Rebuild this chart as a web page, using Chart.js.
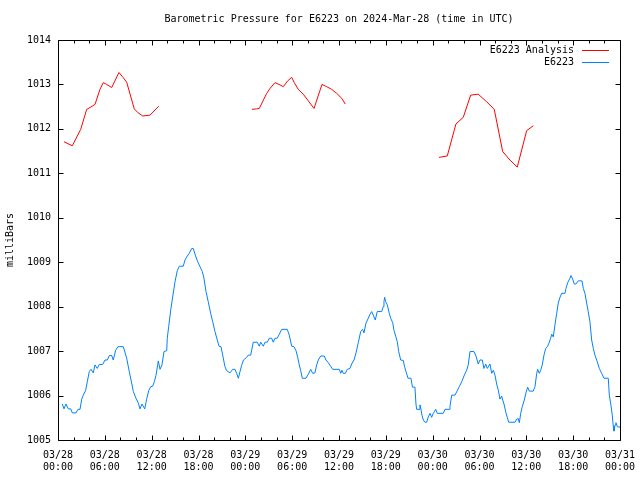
<!DOCTYPE html>
<html><head><meta charset="utf-8">
<script src="https://cdn.jsdelivr.net/npm/chart.js@4.4.1/dist/chart.umd.min.js"></script>
<style>html,body{margin:0;padding:0;background:#fff}canvas{display:block}</style>
</head><body>
<canvas id="c" width="640" height="480"></canvas>
<script>
const titleText = 'Barometric Pressure for E6223 on 2024-Mar-28 (time in UTC)';
const yAxisLabel = 'milliBars';
const seriesNames = ['E6223 Analysis', 'E6223'];
const seriesColors = ['#ff0000', '#0080ff'];

const xTickLabels = [
  ['03/28','00:00'],['03/28','06:00'],['03/28','12:00'],['03/28','18:00'],
  ['03/29','00:00'],['03/29','06:00'],['03/29','12:00'],['03/29','18:00'],
  ['03/30','00:00'],['03/30','06:00'],['03/30','12:00'],['03/30','18:00'],
  ['03/31','00:00']
];
const yTickValues = [1005,1006,1007,1008,1009,1010,1011,1012,1013,1014];

// hours since 03/28 00:00 UTC
const obsHours = [
0.55,0.77,1.02,1.32,1.63,1.83,2.31,2.56,2.82,3.04,
3.24,3.55,3.75,4.01,4.23,4.52,4.74,5.03,5.29,5.73,
6.02,6.32,6.57,6.88,7.08,7.39,7.69,8.37,8.80,9.13,
9.44,9.65,9.99,10.29,10.50,10.76,11.11,11.36,11.62,11.88,
12.13,12.34,12.55,12.77,12.85,13.07,13.32,13.58,13.93,14.00,
14.18,14.44,14.69,14.99,15.28,15.54,16.05,16.27,16.56,16.82,
17.13,17.33,17.59,17.90,18.19,18.49,18.70,18.96,19.25,19.56,
19.82,20.11,20.41,20.63,20.88,21.10,21.39,21.61,22.03,22.38,
22.67,22.89,23.10,23.32,23.53,23.76,24.17,24.38,24.69,24.81,
25.02,25.53,25.79,25.97,26.30,26.52,26.81,27.07,27.38,27.58,
27.80,28.09,28.35,28.66,29.37,29.63,29.94,30.23,30.49,30.71,
30.91,31.09,31.30,31.77,32.07,32.37,32.63,32.92,33.14,33.35,
33.65,34.11,34.33,34.63,34.93,35.19,36.04,36.22,36.38,36.55,
36.81,37.06,37.41,37.62,37.92,38.18,38.47,38.78,39.03,39.20,
39.46,39.75,39.97,40.19,40.48,40.65,40.90,41.47,41.67,41.76,
41.85,41.98,42.19,42.44,42.62,42.88,43.04,43.26,43.47,43.65,
43.90,44.24,44.40,44.58,44.84,45.22,45.41,45.73,45.86,45.95,
46.25,46.37,46.50,46.63,46.80,47.01,47.23,47.44,47.66,47.87,
48.08,48.39,48.59,49.36,49.58,50.13,50.22,50.44,50.86,51.15,
51.41,51.72,52.01,52.36,52.56,52.78,53.29,53.55,53.84,54.06,
54.36,54.57,54.79,55.00,55.34,55.56,55.77,55.98,56.20,56.41,
56.62,56.84,56.97,57.14,57.39,57.56,57.74,58.55,58.76,58.97,
59.10,59.28,59.48,59.74,59.95,60.17,60.38,60.89,61.11,61.33,
61.45,61.66,61.84,62.04,62.26,62.48,62.73,62.90,63.12,63.25,
63.45,63.67,63.89,64.09,64.31,64.53,64.95,65.08,65.30,65.59,
65.72,65.94,66.14,66.36,66.65,67.13,67.30,67.51,67.73,67.93,
68.15,68.37,68.58,68.79,69.09,69.35,69.65,69.95,70.50,70.63,
70.80,71.01,71.14,71.23,71.36,71.48,71.65,72.00
];
const obsPressure = [
1005.81,1005.70,1005.81,1005.70,1005.70,1005.61,1005.61,1005.69,1005.69,1005.92,
1006.01,1006.12,1006.31,1006.54,1006.59,1006.51,1006.69,1006.61,1006.70,1006.70,
1006.80,1006.80,1006.90,1006.90,1006.80,1007.02,1007.10,1007.10,1006.84,1006.54,
1006.28,1006.09,1005.94,1005.83,1005.70,1005.81,1005.70,1005.92,1006.11,1006.20,
1006.21,1006.31,1006.45,1006.69,1006.78,1006.59,1006.69,1006.99,1007.01,1007.29,
1007.55,1007.92,1008.22,1008.56,1008.81,1008.91,1008.91,1009.05,1009.14,1009.20,
1009.31,1009.31,1009.16,1009.01,1008.90,1008.79,1008.64,1008.34,1008.11,1007.85,
1007.66,1007.44,1007.25,1007.11,1007.10,1006.91,1006.65,1006.56,1006.51,1006.59,
1006.59,1006.50,1006.39,1006.54,1006.68,1006.80,1006.86,1006.91,1006.91,1007.02,
1007.20,1007.20,1007.11,1007.20,1007.11,1007.20,1007.20,1007.29,1007.29,1007.20,
1007.29,1007.29,1007.38,1007.49,1007.49,1007.36,1007.11,1007.10,1007.01,1006.86,
1006.69,1006.56,1006.39,1006.39,1006.48,1006.59,1006.50,1006.51,1006.69,1006.80,
1006.89,1006.89,1006.80,1006.74,1006.66,1006.59,1006.59,1006.50,1006.57,1006.50,
1006.50,1006.59,1006.61,1006.71,1006.80,1006.96,1007.19,1007.44,1007.49,1007.41,
1007.63,1007.74,1007.83,1007.89,1007.77,1007.70,1007.89,1007.89,1008.00,1008.11,
1008.21,1008.11,1008.04,1007.85,1007.74,1007.64,1007.47,1007.34,1007.21,1006.99,
1006.80,1006.79,1006.65,1006.54,1006.39,1006.39,1006.19,1006.19,1005.81,1005.69,
1005.69,1005.79,1005.69,1005.56,1005.45,1005.40,1005.40,1005.52,1005.60,1005.51,
1005.60,1005.69,1005.60,1005.60,1005.69,1005.69,1005.76,1006.01,1006.01,1006.11,
1006.20,1006.31,1006.44,1006.57,1006.69,1006.99,1006.99,1006.89,1006.71,1006.80,
1006.80,1006.61,1006.71,1006.61,1006.71,1006.50,1006.57,1006.46,1006.26,1006.12,
1005.92,1005.99,1005.90,1005.81,1005.61,1005.51,1005.40,1005.40,1005.47,1005.48,
1005.39,1005.60,1005.75,1005.90,1006.06,1006.19,1006.10,1006.10,1006.20,1006.50,
1006.59,1006.50,1006.57,1006.69,1006.91,1007.06,1007.11,1007.18,1007.29,1007.38,
1007.32,1007.59,1007.85,1008.08,1008.21,1008.30,1008.30,1008.41,1008.54,1008.64,
1008.70,1008.62,1008.51,1008.51,1008.58,1008.58,1008.41,1008.30,1008.08,1007.89,
1007.66,1007.25,1007.06,1006.91,1006.76,1006.61,1006.50,1006.39,1006.39,1006.01,
1005.83,1005.56,1005.31,1005.20,1005.34,1005.39,1005.30,1005.29
];

// Analysis series; null marks a break between runs
const analysisHours = [
0.77,1.83,2.91,3.68,4.10,4.74,5.38,5.80,6.24,6.88,7.81,8.37,8.80,9.77,10.21,10.85,11.79,12.90,
18,
24.85,25.45,25.79,26.74,27.16,27.80,28.44,28.86,29.43,29.94,30.27,30.78,31.42,32.07,32.80,33.82,34.42,35.06,35.70,36.34,36.80,
42,
48.81,49.87,50.98,51.92,52.87,53.84,54.92,55.89,56.97,57.90,58.84,60.04,60.89
];
const analysisPressure = [
1011.71,1011.62,1011.99,1012.44,1012.48,1012.55,1012.89,1013.04,1013.00,1012.93,1013.27,1013.15,1013.05,1012.45,1012.37,1012.29,1012.31,1012.51,
null,
1012.44,1012.45,1012.46,1012.80,1012.91,1013.04,1012.99,1012.95,1013.08,1013.16,1013.04,1012.89,1012.78,1012.63,1012.46,1013.00,1012.95,1012.89,1012.80,1012.69,1012.56,
null,
1011.36,1011.39,1012.11,1012.26,1012.76,1012.78,1012.61,1012.44,1011.49,1011.30,1011.14,1011.96,1012.07
];

const toPts = (xs, ys) => xs.map((x, i) => ({x: x, y: ys[i]}));
const FONT = '"DejaVu Sans Mono", "Liberation Mono", monospace';
Chart.defaults.font.family = FONT;
Chart.defaults.font.size = 10;
Chart.defaults.color = '#000';

const framePlugin = {
  id: 'gnuframe',
  afterDatasetsDraw(chart) {
    const ctx = chart.ctx, a = chart.chartArea;
    const xs = chart.scales.x, ys = chart.scales.y;
    const L = Math.round(a.left) + 0.5, R = Math.round(a.right) + 0.5;
    const T = Math.round(a.top) + 0.5, B = Math.round(a.bottom) + 0.5;
    ctx.save();
    ctx.strokeStyle = '#000';
    ctx.lineWidth = 1;
    ctx.beginPath();
    ctx.rect(L, T, R - L, B - T);
    // x ticks: major every 6h, minor every 2h, drawn inward top and bottom
    for (let h = xs.min; h <= xs.max; h += 2) {
      const px = Math.round(xs.getPixelForValue(h)) + 0.5;
      const len = (h % 6 === 0) ? 5 : 3;
      ctx.moveTo(px, B); ctx.lineTo(px, B - len);
      ctx.moveTo(px, T); ctx.lineTo(px, T + len);
    }
    yTickValues.forEach(v => {
      const py = Math.round(ys.getPixelForValue(v)) + 0.5;
      ctx.moveTo(L, py); ctx.lineTo(L + 5, py);
      ctx.moveTo(R, py); ctx.lineTo(R - 5, py);
    });
    ctx.stroke();
    ctx.restore();
  },
  afterDraw(chart) {
    const ctx = chart.ctx, a = chart.chartArea;
    ctx.save();
    ctx.fillStyle = '#000';
    ctx.font = '10px ' + FONT;
    // title
    ctx.textAlign = 'center';
    ctx.textBaseline = 'middle';
    ctx.fillText(titleText, (a.left + a.right) / 2, 19);
    // key (legend) in the top-right of the plot
    ctx.textAlign = 'right';
    chart.data.datasets.forEach((ds, i) => {
      const y = a.top + 10 + i * 12;
      ctx.fillStyle = '#000';
      ctx.fillText(ds.label, a.right - 46, y);
      ctx.strokeStyle = ds.borderColor;
      ctx.lineWidth = 1;
      ctx.beginPath();
      ctx.moveTo(a.right - 38, Math.round(y) + 0.5);
      ctx.lineTo(a.right - 11, Math.round(y) + 0.5);
      ctx.stroke();
    });
    ctx.restore();
  }
};

new Chart(document.getElementById('c'), {
  type: 'line',
  data: {
    datasets: [
      { label: seriesNames[0], data: toPts(analysisHours, analysisPressure),
        borderColor: seriesColors[0], backgroundColor: seriesColors[0],
        borderWidth: 1, pointRadius: 0, tension: 0, spanGaps: false },
      { label: seriesNames[1], data: toPts(obsHours, obsPressure),
        borderColor: seriesColors[1], backgroundColor: seriesColors[1],
        borderWidth: 1, pointRadius: 0, tension: 0 }
    ]
  },
  options: {
    responsive: false,
    animation: false,
    devicePixelRatio: 1,
    layout: { padding: { top: 40, right: 20, bottom: 0, left: 0 } },
    plugins: { legend: { display: false }, title: { display: false }, tooltip: { enabled: false } },
    scales: {
      x: {
        type: 'linear', min: 0, max: 72,
        grid: { display: false, drawTicks: false },
        border: { display: false },
        ticks: {
          stepSize: 6, autoSkip: false, maxRotation: 0, padding: 9,
          callback: (v) => xTickLabels[Math.round(v / 6)]
        },
        afterFit: (s) => { s.height = 40; s.paddingLeft = 0; s.paddingRight = 0; }
      },
      y: {
        type: 'linear', min: 1005, max: 1014,
        grid: { display: false, drawTicks: false },
        border: { display: false },
        ticks: { stepSize: 1, padding: 7, callback: (v) => String(v) },
        title: { display: true, text: yAxisLabel, padding: { top: 4, bottom: 0 } },
        afterFit: (s) => { s.width = 58; s.paddingTop = 0; s.paddingBottom = 0; }
      }
    }
  },
  plugins: [framePlugin]
});
</script>
</body></html>
